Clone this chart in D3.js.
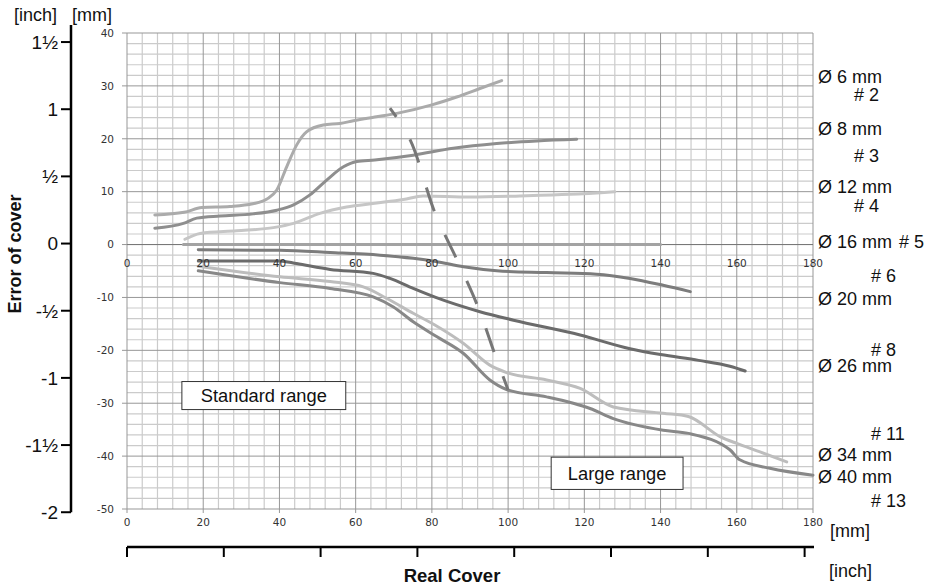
<!DOCTYPE html>
<html><head><meta charset="utf-8">
<script src="https://cdn.jsdelivr.net/npm/d3@7/dist/d3.min.js"></script>
<style>
html,body{margin:0;padding:0;background:#fff;}
svg{display:block;}
text{font-family:"Liberation Sans",Arial,Helvetica,sans-serif;}
</style></head>
<body>
<svg id="chart" width="934" height="586"></svg>
<script>
// ---- data ----
const xTicks = [0,20,40,60,80,100,120,140,160,180];
const yTicks = [-50,-40,-30,-20,-10,0,10,20,30,40];
const inchYTicks = [-2,-1.5,-1,-0.5,0,0.5,1,1.5];
const inchYLabels = ["-2","-1½","-1","-½","0","½","1","1½"];
const inchXTicks = [0,1,2,3,4,5,6,7];

const d6  = [[7.3,5.6],[15,6.1],[19.6,7.0],[27,7.2],[33,7.7],[36.7,8.6],[39.3,10.3],[41.9,14.7],[44.5,18.8],[47.1,21.3],[51.5,22.6],[55.9,22.9],[59.4,23.4],[65,24.1],[70.8,24.8],[80,26.4],[86.5,27.9],[92.6,29.5],[98.3,31.0]];
const d8  = [[7.3,3.1],[14.8,4.0],[18.3,5.0],[24.4,5.4],[33.1,5.8],[39.3,6.5],[43.7,7.5],[48,9.4],[52.4,12.2],[56.8,14.7],[60.3,15.7],[65,16.0],[75.1,16.9],[85.6,18.2],[97,19.1],[107.5,19.6],[118,19.9]];
const d12 = [[15.2,1.0],[19.2,2.1],[28.8,2.6],[38.4,3.2],[43.7,4.0],[50.6,5.9],[57.6,7.1],[65,7.8],[72.5,8.5],[77.7,9.2],[90,9.0],[103.1,9.2],[116.2,9.5],[128,10.0]];
const d16 = [[14.8,0],[140,0]];
const d20 = [[18.7,-1.0],[40.1,-1.1],[53.3,-1.5],[66.4,-2.0],[75.1,-2.6],[81,-3.2],[88.3,-4.2],[97,-4.95],[110.1,-5.3],[123.2,-5.6],[132,-6.4],[140.7,-7.7],[147.8,-8.9]];
const d26 = [[18.7,-3.1],[40.1,-3.1],[44.5,-3.6],[53.3,-4.7],[64.6,-5.45],[69,-6.4],[75.1,-8.3],[81,-10],[92.6,-12.7],[101.4,-14.3],[118.9,-17.1],[132,-19.7],[140,-20.8],[150,-21.9],[158.2,-23.0],[162.2,-23.9]];
const d34 = [[18.7,-4.1],[40.1,-6.1],[53.3,-7.0],[62,-8.0],[68.2,-10.2],[75.1,-13.0],[81,-15.3],[88.3,-18.7],[95.2,-22.8],[99.6,-24.2],[110.1,-25.6],[118.9,-27.2],[127.6,-30.7],[140.7,-31.9],[147.3,-32.5],[155.6,-36.3],[160,-37.6],[166.1,-39.2],[173.1,-41.1]];
const d40 = [[18.7,-4.95],[40.1,-7.2],[53.3,-8.3],[64.6,-9.9],[69.9,-11.8],[75.1,-14.6],[81,-17.3],[88.3,-20.6],[95.2,-25.6],[99.6,-27.4],[110.1,-28.8],[117.1,-30.0],[121.5,-31.0],[127.6,-32.9],[140.7,-35.1],[147.3,-35.7],[158.2,-38.8],[160.8,-40.7],[168.7,-42.3],[180,-43.6]];
const boundary = [[69,25.8],[74.3,19.8],[80.8,6.0],[86.6,-2.9],[92.1,-11.8],[96.6,-20.9],[100,-27.5]];

const seriesNames = ["Ø6","Ø8","Ø12","Ø16","Ø20","Ø26","Ø34","Ø40"];
const seriesData  = [d6,d8,d12,d16,d20,d26,d34,d40];
const seriesColors = ["#ababab","#8e8e8e","#c6c6c6","#a3a3a3","#7c7c7c","#6b6b6b","#bdbdbd","#888888"];

// right-side labels: text, value (mm) at the baseline
const diaLabels = [["Ø 6 mm",30.5],["Ø 8 mm",20.7],["Ø 12 mm",9.7],["Ø 16 mm",-0.7],["Ø 20 mm",-11.4],["Ø 26 mm",-24.1],["Ø 34 mm",-40.9],["Ø 40 mm",-45.1]];
const awgLabels = [["# 2",27.1,0],["# 3",15.6,0],["# 4",6.1,0],["# 5",-0.7,1],["# 6",-7.1,2],["# 8",-21.1,2],["# 11",-37.0,2],["# 13",-49.6,2]];

// ---- drawing ----
const svg = d3.select("#chart");
const x = d3.scaleLinear().domain([0,180]).range([127,813]);
const y = d3.scaleLinear().domain([-50,40]).range([509,33]);
const mmPerInch = 25.4;
const F = 18;

// grid
const g = svg.append("g");
const minorX = d3.range(0,181,4), minorY = d3.range(-50,41,2);
g.selectAll(".vx").data(minorX.filter(v=>v%20!==0)).join("line")
  .attr("x1",d=>x(d)).attr("x2",d=>x(d)).attr("y1",y(40)).attr("y2",y(-50))
  .attr("stroke","#cbcbcb").attr("stroke-width",1.2);
g.selectAll(".hy").data(minorY.filter(v=>v%10!==0)).join("line")
  .attr("y1",d=>y(d)).attr("y2",d=>y(d)).attr("x1",x(0)).attr("x2",x(180))
  .attr("stroke","#cbcbcb").attr("stroke-width",1.2);
g.selectAll(".mx").data(xTicks).join("line")
  .attr("x1",d=>x(d)).attr("x2",d=>x(d)).attr("y1",y(40)).attr("y2",y(-50))
  .attr("stroke","#979797").attr("stroke-width",1);
g.selectAll(".my").data(yTicks).join("line")
  .attr("y1",d=>y(d)).attr("y2",d=>y(d)).attr("x1",x(0)).attr("x2",x(180))
  .attr("stroke","#979797").attr("stroke-width",1);
g.append("line").attr("x1",x(0)).attr("x2",x(180)).attr("y1",y(0)).attr("y2",y(0))
  .attr("stroke","#777").attr("stroke-width",1);

g.selectAll(".yt").data(yTicks).join("line")
  .attr("x1",x(0)-5).attr("x2",x(0)).attr("y1",d=>y(d)).attr("y2",d=>y(d))
  .attr("stroke","#979797");
g.selectAll(".bt").data(xTicks).join("line")
  .attr("x1",d=>x(d)).attr("x2",d=>x(d)).attr("y1",y(-50)).attr("y2",y(-50)+4)
  .attr("stroke","#979797");

const tickFont = "'DejaVu Sans',Verdana,sans-serif";
svg.selectAll(".ytl").data(yTicks).join("text")
  .attr("x",x(0)-13).attr("y",d=>y(d)).attr("dy","0.36em")
  .attr("text-anchor","end").attr("font-size",10.5).attr("fill","#333")
  .style("font-family",tickFont).text(d=>d);

// curves
const line = d3.line().x(d=>x(d[0])).y(d=>y(d[1])).curve(d3.curveMonotoneX);
svg.selectAll(".curve").data(seriesData).join("path")
  .attr("d",line).attr("fill","none")
  .attr("stroke",(d,i)=>seriesColors[i]).attr("stroke-width",3)
  .attr("stroke-linecap","round").attr("stroke-linejoin","round");

// x tick labels along zero line and bottom
[[0,22],[-50,17]].forEach(([v,off])=>{
  svg.selectAll(".xtl"+v).data(xTicks).join("text")
    .attr("x",d=>x(d)).attr("y",y(v)+off)
    .attr("text-anchor","middle").attr("font-size",10.5).attr("fill","#333")
    .style("font-family",tickFont).text(d=>d);
});

// boundary dashed line
svg.append("path").datum(boundary)
  .attr("d",d3.line().x(d=>x(d[0])).y(d=>y(d[1])).curve(d3.curveCatmullRom))
  .attr("fill","none").attr("stroke","#777").attr("stroke-width",3)
  .attr("stroke-dasharray","25 26").attr("stroke-dashoffset",14);

// range boxes
function box(x0,x1,yTop,yBot,label){
  svg.append("rect").attr("x",x(x0)).attr("y",y(yTop))
    .attr("width",x(x1)-x(x0)).attr("height",y(yBot)-y(yTop))
    .attr("fill","#fff").attr("stroke","#333").attr("stroke-width",1);
  svg.append("text").attr("x",(x(x0)+x(x1))/2).attr("y",(y(yTop)+y(yBot))/2)
    .attr("dy","0.36em").attr("text-anchor","middle").attr("font-size",18.3)
    .attr("fill","#111").text(label);
}
box(14.4,57.4,-25.9,-31.2,"Standard range");
box(111.3,145.9,-40.2,-46.3,"Large range");

// left inch axis
const axX = 71;
svg.append("line").attr("x1",axX).attr("x2",axX).attr("y1",25).attr("y2",y(-2*mmPerInch)-1)
  .attr("stroke","#000").attr("stroke-width",2.5);
svg.selectAll(".it").data(inchYTicks).join("line")
  .attr("x1",axX-10).attr("x2",axX).attr("y1",d=>y(d*mmPerInch)-1).attr("y2",d=>y(d*mmPerInch)-1)
  .attr("stroke","#000").attr("stroke-width",2);
svg.selectAll(".itl").data(inchYTicks).join("text")
  .attr("x",axX-13).attr("y",d=>y(d*mmPerInch)-1).attr("dy","0.36em")
  .attr("text-anchor","end").attr("font-size",19).attr("fill","#111")
  .text((d,i)=>inchYLabels[i]);
svg.append("text").attr("x",14).attr("y",21).attr("font-size",F).attr("fill","#111").text("[inch]");
svg.append("text").attr("x",72).attr("y",21).attr("font-size",F).attr("fill","#111").text("[mm]");
svg.append("text").attr("transform","translate(21,254) rotate(-90)")
  .attr("text-anchor","middle").attr("font-size",F).attr("font-weight","bold")
  .attr("fill","#111").text("Error of cover");

// bottom inch axis
const axY = 547;
svg.append("line").attr("x1",x(0)).attr("x2",x(180)+1).attr("y1",axY).attr("y2",axY)
  .attr("stroke","#000").attr("stroke-width",2.5);
svg.selectAll(".ixt").data(inchXTicks).join("line")
  .attr("x1",d=>x(d*mmPerInch)).attr("x2",d=>x(d*mmPerInch)).attr("y1",axY).attr("y2",axY+10)
  .attr("stroke","#000").attr("stroke-width",2);
svg.append("text").attr("x",452).attr("y",582).attr("text-anchor","middle")
  .attr("font-size",18.5).attr("font-weight","bold").attr("fill","#111").text("Real Cover");
svg.append("text").attr("x",830).attr("y",537).attr("font-size",F).attr("fill","#111").text("[mm]");
svg.append("text").attr("x",829).attr("y",577).attr("font-size",F).attr("fill","#111").text("[inch]");

// right labels
svg.selectAll(".dl").data(diaLabels).join("text")
  .attr("x",x(180)+5).attr("y",d=>y(d[1]))
  .attr("font-size",F).attr("fill","#111").text(d=>d[0]);
const awgX = [x(180)+41, x(180)+86, x(180)+58];
svg.selectAll(".al").data(awgLabels).join("text")
  .attr("x",d=>awgX[d[2]]).attr("y",d=>y(d[1]))
  .attr("font-size",F).attr("fill","#111").text(d=>d[0]);
</script>
</body></html>
